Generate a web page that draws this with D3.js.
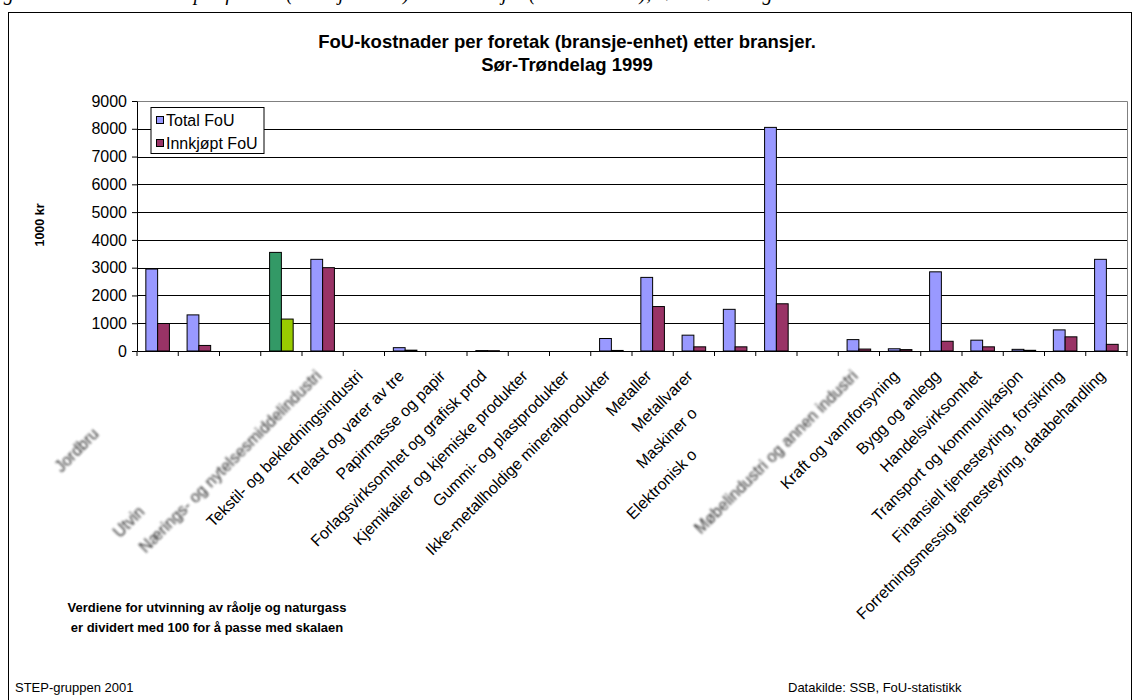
<!DOCTYPE html>
<html>
<head>
<meta charset="utf-8">
<script src="https://cdn.jsdelivr.net/npm/d3@7"></script>
<style>
  html, body { margin: 0; padding: 0; background: #fff; }
  svg { display: block; font-family: Arial, "Liberation Sans", sans-serif; }
</style>
</head>
<body>
<svg id="chart" width="1134" height="700"></svg>
<script>
// ---------- data ----------
const categories = [
  "Jordbruk, skogbruk",
  "Fiske og fangst",
  "Fiskeoppdrett",
  "Utvinning av råolje og naturgass",
  "Nærings- og nytelsesmiddelindustri",
  "Tekstil- og bekledningsindustri",
  "Trelast og varer av tre",
  "Papirmasse og papir",
  "Forlagsvirksomhet og grafisk prod",
  "Kjemikalier og kjemiske produkter",
  "Gummi- og plastprodukter",
  "Ikke-metallholdige mineralprodukter",
  "Metaller",
  "Metallvarer",
  "Maskiner og utstyr",
  "Elektronisk og optisk industri",
  "Transportmidler",
  "Møbelindustri og annen industri",
  "Kraft og vannforsyning",
  "Bygg og anlegg",
  "Handelsvirksomhet",
  "Transport og kommunikasjon",
  "Finansiell tjenesteyting, forsikring",
  "Forretningsmessig tjenesteyting, databehandling"
];
const seriesNames = ["Total FoU", "Innkjøpt FoU"];
const totalFoU    = [2950, 1300, 0, 3550, 3300, 0, 120, 0, 15, 0, 0, 450, 2650, 570, 1500, 8050, 0, 410, 80, 2850, 390, 60, 760, 3300];
const innkjoptFoU = [990, 200, 0, 1150, 3000, 0, 30, 0, 10, 0, 0, 20, 1600, 150, 150, 1700, 0, 70, 50, 350, 150, 25, 510, 240];
const yTicks = [0, 1000, 2000, 3000, 4000, 5000, 6000, 7000, 8000, 9000];
// label visibility in the picture: number of visible leading characters (-1 = all), and blurred labels
const labelVisibleChars = [7, 0, 0, 5, -1, -1, -1, -1, -1, -1, -1, -1, -1, -1, 10, 13, 0, -1, -1, -1, -1, -1, -1, -1];
const labelBlurred      = [true, false, false, true, true, false, false, false, false, false, false, false, false, false, false, false, false, true, false, false, false, false, false, false];
const highlightCategory = "Utvinning av råolje og naturgass";

const titleLines = ["FoU-kostnader per foretak (bransje-enhet) etter bransjer.", "Sør-Trøndelag 1999"];
const yAxisTitle = "1000 kr";
const noteLines = ["Verdiene for utvinning av råolje og naturgass", "er dividert med 100 for å passe med skalaen"];
const footLeft = "STEP-gruppen 2001";
const footRight = "Datakilde: SSB, FoU-statistikk";
const captionTop = "Figur 3.5  FoU-kostnader per foretak (bransje-enhet) etter bransjer (tall i 1000 kr), Sør-Trøndelag 1999";

// ---------- layout ----------
const svg = d3.select("#chart");
const plot = { left: 137, right: 1127, top: 101, bottom: 351 };
const colors = { "Total FoU": "#9999FF", "Innkjøpt FoU": "#993366" };
const highlightColors = { "Total FoU": "#339966", "Innkjøpt FoU": "#99CC00" };
const axisFont = 16;

const defs = svg.append("defs");
defs.append("filter").attr("id", "blur").attr("x", "-20%").attr("y", "-20%").attr("width", "140%").attr("height", "140%")
  .append("feGaussianBlur").attr("stdDeviation", 1.2);

// caption cut at top of the page (only descenders visible, as in the source)
svg.append("text").attr("x", -14).attr("y", 0)
  .attr("font-family", "'Liberation Serif', 'Times New Roman', serif")
  .attr("font-style", "italic").attr("font-size", 20).attr("fill", "#000")
  .text(captionTop);

// outer frame
svg.append("rect").attr("x", 8.5).attr("y", 12.5).attr("width", 1123).attr("height", 700)
  .attr("fill", "none").attr("stroke", "#000").attr("stroke-width", 1);

// title
svg.append("g").selectAll("text").data(titleLines).join("text")
  .attr("x", 567).attr("y", (d, i) => 48 + i * 23)
  .attr("text-anchor", "middle").attr("font-weight", "bold").attr("font-size", 18.5)
  .text(d => d);

// scales
const x = d3.scaleBand().domain(categories).range([plot.left, plot.right]).paddingInner(0).paddingOuter(0);
const barW = x.bandwidth() / 3.5;
const xs = d3.scaleBand().domain(seriesNames).range([0.75 * barW, x.bandwidth() - 0.75 * barW]);
const y = d3.scaleLinear().domain([0, 9000]).range([plot.bottom, plot.top]);

// plot area border (grey) top/right
svg.append("path")
  .attr("d", `M${plot.left},${plot.top + 0.5}H${plot.right + 0.5}V${plot.bottom}`)
  .attr("fill", "none").attr("stroke", "#808080").attr("stroke-width", 1);

// gridlines
svg.append("g").selectAll("line").data(yTicks.filter(t => t > 0 && t < 9000)).join("line")
  .attr("x1", plot.left).attr("x2", plot.right)
  .attr("y1", d => Math.round(y(d)) + 0.5).attr("y2", d => Math.round(y(d)) + 0.5)
  .attr("stroke", "#000").attr("stroke-width", 1);

// bars
const rows = categories.map((c, i) => ({ cat: c, values: [
  { s: "Total FoU", v: totalFoU[i] }, { s: "Innkjøpt FoU", v: innkjoptFoU[i] } ] }));
const groups = svg.append("g").selectAll("g").data(rows).join("g")
  .attr("transform", d => `translate(${x(d.cat)},0)`);
groups.selectAll("rect").data(d => d.values.filter(v => v.v > 0).map(v => ({ ...v, cat: d.cat }))).join("rect")
  .attr("x", d => xs(d.s)).attr("width", xs.bandwidth())
  .attr("y", d => y(d.v)).attr("height", d => y(0) - y(d.v))
  .attr("fill", d => (d.cat === highlightCategory ? highlightColors : colors)[d.s])
  .attr("stroke", "#000").attr("stroke-width", 1);

// y axis
const yAxis = svg.append("g").attr("transform", `translate(${plot.left},0)`)
  .call(d3.axisLeft(y).tickValues(yTicks).tickSize(5).tickSizeOuter(0).tickFormat(d3.format("d")));
yAxis.select(".domain").attr("stroke", "#000");
yAxis.selectAll(".tick line").attr("stroke", "#000");
yAxis.selectAll(".tick text").attr("font-size", axisFont).attr("font-family", "Arial, 'Liberation Sans', sans-serif")
  .attr("fill", "#000").attr("x", -10);

// x axis (line + boundary ticks)
const xAxis = svg.append("g").attr("transform", `translate(0,${plot.bottom})`)
  .call(d3.axisBottom(x).tickSize(0).tickFormat(""));
xAxis.select(".domain").attr("stroke", "#000");
const boundaries = categories.map(c => x(c)).concat([x(categories[categories.length - 1]) + x.bandwidth()]);
xAxis.append("g").selectAll("line").data(boundaries).join("line")
  .attr("x1", d => d).attr("x2", d => d).attr("y1", 0).attr("y2", 5)
  .attr("stroke", "#000");

// x labels
const labels = xAxis.append("g").selectAll("text").data(categories).join("text")
  .attr("transform", c => `translate(${x(c) + x.bandwidth() / 2},${26}) rotate(-45)`)
  .attr("text-anchor", "end").attr("font-size", axisFont).attr("fill", "#000")
  .attr("font-family", "Arial, 'Liberation Sans', sans-serif");
labels.each(function (c, i) {
  const n = labelVisibleChars[i] < 0 ? c.length : labelVisibleChars[i];
  const t = d3.select(this);
  if (labelBlurred[i]) t.attr("filter", "url(#blur)").attr("fill", "#333");
  t.append("tspan").text(c.slice(0, n));
  t.append("tspan").attr("fill-opacity", 0).text(c.slice(n));
});

// y axis title
svg.append("text").attr("transform", `translate(44,225) rotate(-90)`)
  .attr("text-anchor", "middle").attr("font-weight", "bold").attr("font-size", 12.5)
  .text(yAxisTitle);

// legend
const legend = svg.append("g").attr("transform", "translate(151,107.5)");
legend.append("rect").attr("width", 113).attr("height", 46).attr("fill", "#fff").attr("stroke", "#000");
const li = legend.selectAll("g").data(seriesNames).join("g")
  .attr("transform", (d, i) => `translate(5.5,${9 + i * 23})`);
li.append("rect").attr("width", 7).attr("height", 7).attr("fill", d => colors[d]).attr("stroke", "#000");
li.append("text").attr("x", 9.5).attr("y", 9).attr("font-size", axisFont).text(d => d);

// note
svg.append("g").selectAll("text").data(noteLines).join("text")
  .attr("x", 207).attr("y", (d, i) => 612 + i * 20)
  .attr("text-anchor", "middle").attr("font-weight", "bold").attr("font-size", 13)
  .text(d => d);

// footers
svg.append("text").attr("x", 15).attr("y", 692).attr("font-size", 13).text(footLeft);
svg.append("text").attr("x", 788).attr("y", 692).attr("font-size", 13).text(footRight);
</script>
</body>
</html>
